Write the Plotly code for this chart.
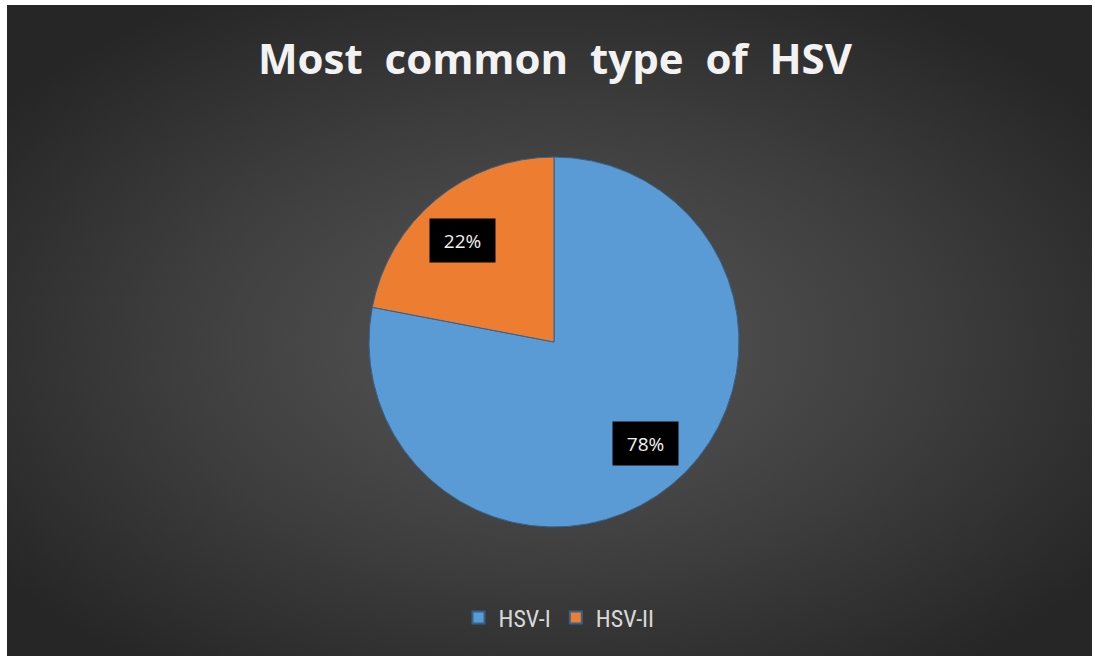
import base64
import math
import plotly.graph_objects as go

# ---- data ----
labels = ["HSV-I", "HSV-II"]
values = [78, 22]
colors = ["#5b9bd5", "#ed7d31"]
title_text = "Most  common  type  of  HSV"

# ---- layout geometry ----
W, H = 1095, 659
ML, MR, MT, MB = 7, 3, 5, 3
PW, PH = W - ML - MR, H - MT - MB

# pie placement (pixels)
cx_px, cy_px, r_px = 554, 342, 185
dom_x = [(cx_px - r_px - ML) / PW, (cx_px + r_px - ML) / PW]
dom_y = [1 - (cy_px + r_px - MT) / PH, 1 - (cy_px - r_px - MT) / PH]

# radial gradient background as svg image
svg = (
    '<svg xmlns="http://www.w3.org/2000/svg" width="%d" height="%d" '
    'viewBox="0 0 %d %d" preserveAspectRatio="none">'
    '<defs><radialGradient id="g" cx="50%%" cy="52%%" r="62%%">'
    '<stop offset="0" stop-color="#575757"/>'
    '<stop offset="0.55" stop-color="#3e3e3e"/>'
    '<stop offset="1" stop-color="#262626"/>'
    '</radialGradient></defs>'
    '<rect x="0" y="0" width="%d" height="%d" fill="url(#g)"/></svg>'
) % (PW, PH, PW, PH, PW, PH)
svg_uri = "data:image/svg+xml;base64," + base64.b64encode(svg.encode()).decode()

fig = go.Figure(
    go.Pie(
        labels=labels,
        values=values,
        sort=False,
        direction="clockwise",
        rotation=0,
        marker=dict(colors=colors, line=dict(color="#35618a", width=1)),
        textinfo="none",
        hoverinfo="label+percent",
        domain=dict(x=dom_x, y=dom_y),
    )
)

# percentage labels in black boxes, placed near each slice's mid-angle
total = sum(values)
cum = 0
annotations = []
for lab, v in zip(labels, values):
    mid = (cum + v / 2) / total * 2 * math.pi  # clockwise from 12 o'clock
    cum += v
    px = cx_px + 0.74 * r_px * math.sin(mid - 0.04)
    py = cy_px - 0.74 * r_px * math.cos(mid - 0.04)
    annotations.append(
        dict(
            x=(px - ML) / PW,
            y=1 - (py - MT) / PH,
            xref="paper",
            yref="paper",
            text="%d%%" % round(100 * v / total),
            showarrow=False,
            font=dict(family="Open Sans, Liberation Sans", size=19, color="#f2f2f2"),
            bgcolor="#000000",
            width=49,
            height=27,
            borderpad=8,
            xanchor="center",
            yanchor="middle",
        )
    )

annotations.append(
    dict(
        x=(555 - ML) / PW,
        y=1 - (57 - MT) / PH,
        xref="paper",
        yref="paper",
        text="<b>%s</b>" % title_text.replace(" ", "&nbsp;"),
        showarrow=False,
        font=dict(family="Open Sans, DejaVu Sans", size=42, color="#f2f2f2"),
        xanchor="center",
        yanchor="middle",
    )
)

fig.update_layout(
    width=W,
    height=H,
    margin=dict(l=ML, r=MR, t=MT, b=MB, pad=0),
    paper_bgcolor="#ffffff",
    plot_bgcolor="rgba(0,0,0,0)",
    showlegend=True,
    legend=dict(
        orientation="h",
        x=(559 - ML) / PW,
        xanchor="center",
        y=1 - (618 - MT) / PH,
        yanchor="middle",
        font=dict(family="Roboto Condensed, Liberation Sans Narrow, Roboto", size=24, color="#d9d9d9"),
        bgcolor="rgba(0,0,0,0)",
        itemsizing="constant",
        itemwidth=30,
    ),
    annotations=annotations,
    images=[
        dict(
            source=svg_uri,
            xref="paper",
            yref="paper",
            x=0,
            y=1,
            sizex=1,
            sizey=1,
            xanchor="left",
            yanchor="top",
            sizing="stretch",
            layer="below",
        )
    ],
)

fig.write_html(
    "out.html",
    config={"displayModeBar": False},
    post_script="document.body.style.margin='0px';",
)
